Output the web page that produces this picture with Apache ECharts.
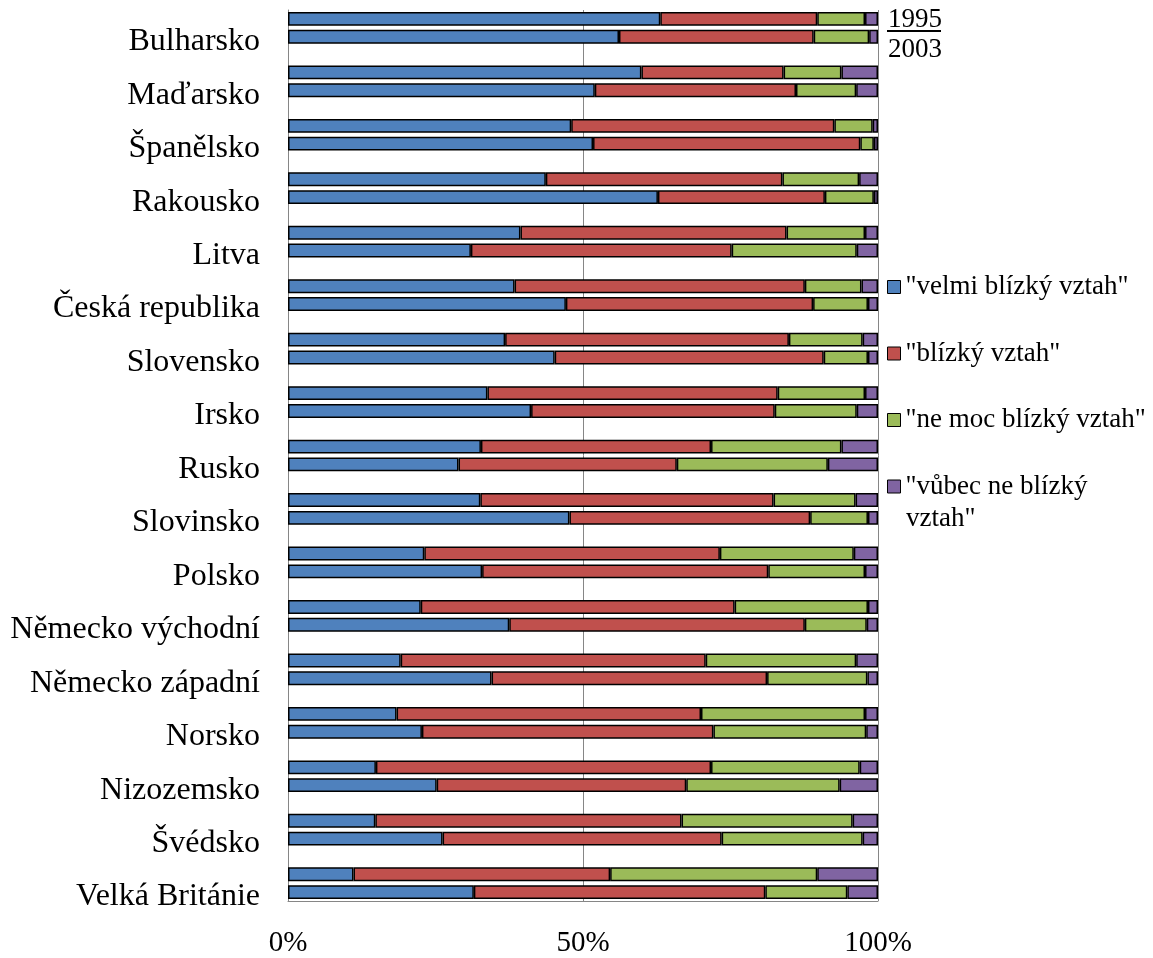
<!DOCTYPE html>
<html>
<head>
<meta charset="utf-8">
<script src="https://cdn.jsdelivr.net/npm/echarts@6/dist/echarts.min.js"></script>
<style>html,body{margin:0;padding:0;background:#fff}#c{width:1153px;height:958px}</style>
</head>
<body>
<div id="c"></div>
<script>
var countries = ['Bulharsko','Maďarsko','Španělsko','Rakousko','Litva','Česká republika','Slovensko','Irsko','Rusko','Slovinsko','Polsko','Německo východní','Německo západní','Norsko','Nizozemsko','Švédsko','Velká Británie'];
var years = ['1995','2003'];
var seriesNames = ['"velmi blízký vztah"','"blízký vztah"','"ne moc blízký vztah"','"vůbec ne blízký vztah"'];
var xTicks = [0, 50, 100];

var veryClose1995 = [63.1,59.9,48.0,43.7,39.4,38.4,36.8,33.8,32.7,32.6,23.1,22.5,19.1,18.4,14.9,14.8,11.1];
var veryClose2003 = [56.1,52.0,51.7,62.7,31.0,47.1,45.2,41.2,28.9,47.7,32.9,37.5,34.5,22.7,25.2,26.2,31.5];
var close1995     = [26.6,24.1,44.6,40.1,45.1,49.2,48.1,49.2,39.0,49.7,50.1,53.2,51.7,51.6,56.8,51.9,43.5];
var close2003     = [33.0,34.1,45.3,28.3,44.2,41.9,45.6,41.3,37.0,40.8,48.5,50.1,46.7,49.4,42.3,47.3,49.4];
var notVery1995   = [8.1,9.8,6.5,13.0,13.3,9.6,12.5,14.8,22.1,13.9,22.7,22.6,25.5,27.8,25.2,29.0,35.1];
var notVery2003   = [9.4,10.2,2.3,8.3,21.2,9.3,7.5,13.9,25.6,9.8,16.4,10.5,17.0,25.9,26.0,23.9,13.9];
var notAt1995     = [2.2,6.2,0.9,3.2,2.2,2.8,2.6,2.2,6.2,3.8,4.1,1.7,3.7,2.2,3.1,4.3,10.3];
var notAt2003     = [1.5,3.7,0.7,0.7,3.6,1.7,1.7,3.6,8.5,1.7,2.2,1.9,1.8,2.0,6.5,2.6,5.2];

var colors = ['#4F81BD','#C0504D','#9BBB59','#8064A2'];
var pairs = [[veryClose1995, veryClose2003],[close1995, close2003],[notVery1995, notVery2003],[notAt1995, notAt2003]];

// rows: country 1995, country 2003, blank spacer (except after the last)
var rows = [], rowLabels = [];
countries.forEach(function(c, k){
  rows.push(String(rows.length)); rowLabels.push('');
  rows.push(String(rows.length)); rowLabels.push(c);
  if (k < countries.length - 1) { rows.push(String(rows.length)); rowLabels.push(''); }
});

function buildRows(a1995, a2003){
  var out = [];
  countries.forEach(function(c, k){
    out.push(a1995[k]); out.push(a2003[k]);
    if (k < countries.length - 1) out.push(null);
  });
  return out;
}

var FONT = 'Liberation Serif';
var series = seriesNames.map(function(n, i){
  return {
    name: n, type: 'bar', stack: 'all',
    barCategoryGap: '22%',
    itemStyle: {color: colors[i], borderColor: '#000', borderWidth: 1.5},
    emphasis: {disabled: true},
    data: buildRows(pairs[i][0], pairs[i][1])
  };
});

var lastName = seriesNames[3];
var splitAt = lastName.lastIndexOf(' ');

var chart = echarts.init(document.getElementById('c'), null, {renderer: 'canvas'});
chart.setOption({
  animation: false,
  backgroundColor: '#fff',
  grid: {left: 288, right: 275, top: 10, bottom: 53, containLabel: false},
  xAxis: {
    type: 'value', min: xTicks[0], max: xTicks[xTicks.length-1], interval: xTicks[1]-xTicks[0],
    axisLine: {show: true, lineStyle: {color: '#868686', width: 1}},
    axisTick: {show: false},
    splitLine: {show: true, lineStyle: {color: '#868686', width: 1}},
    axisLabel: {formatter: '{value}%', fontFamily: FONT, fontSize: 29, color: '#000', margin: 28}
  },
  yAxis: {
    type: 'category', inverse: true, data: rows,
    axisLine: {show: true, lineStyle: {color: '#868686', width: 1}},
    axisTick: {show: false},
    axisLabel: {interval: 0, fontFamily: FONT, fontSize: 32, color: '#000', margin: 28,
      verticalAlign: 'top', lineHeight: 10,
      formatter: function(v, idx){ return rowLabels[idx]; }}
  },
  legend: {
    orient: 'vertical', left: 887, top: 269, padding: 0, itemGap: 30.5,
    itemWidth: 13, itemHeight: 13, icon: 'rect',
    itemStyle: {borderColor: '#000', borderWidth: 1},
    textStyle: {fontFamily: FONT, fontSize: 27, color: '#000', lineHeight: 36},
    formatter: function(n){ return n === lastName ? lastName.slice(0, splitAt) : n; },
    data: seriesNames
  },
  graphic: [
    {type: 'text', left: 888, top: 6, style: {text: years[0], font: '27px "Liberation Serif"', fill: '#000'}},
    {type: 'line', shape: {x1: 887, y1: 31, x2: 941, y2: 31}, style: {stroke: '#000', lineWidth: 2}},
    {type: 'text', left: 888, top: 36, style: {text: years[1], font: '27px "Liberation Serif"', fill: '#000'}},
    {type: 'text', left: 906, top: 505, style: {text: lastName.slice(splitAt + 1), font: '27px "Liberation Serif"', fill: '#000'}}
  ],
  series: series
});
</script>
</body>
</html>
